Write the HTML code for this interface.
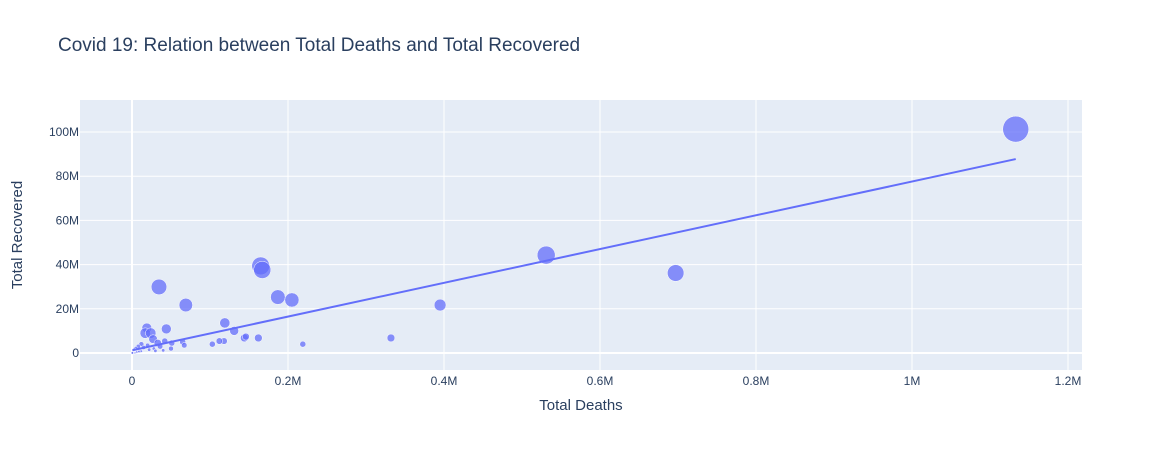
<!DOCTYPE html>
<html><head><meta charset="utf-8"><style>
body{margin:0;background:#fff;font-family:"Liberation Sans",Arial,sans-serif}
svg text{font-family:"Liberation Sans",Arial,sans-serif;fill:#2a3f5f}
</style></head><body>
<svg id="chart" width="1162" height="450" xmlns="http://www.w3.org/2000/svg">
<rect x="0" y="0" width="1162" height="450" fill="#fff"/>
<text x="58" y="51" font-size="19">Covid 19: Relation between Total Deaths and Total Recovered</text>
<rect x="80" y="100" width="1002" height="270" fill="#e5ecf6"/>
<g id="grid"></g><g id="marks"></g><g id="ticks"></g>
<text x="581" y="410" font-size="15" text-anchor="middle">Total Deaths</text>
<text transform="translate(22,235) rotate(-90)" font-size="15" text-anchor="middle">Total Recovered</text>
</svg>
<script>
const totalDeaths=[1.133,0.531,0.697,0.395,0.332,0.219,0.165,0.167,0.187,0.205,0.0346,0.069,0.119,0.131,0.162,0.144,0.146,0.118,0.112,0.103,0.044,0.019,0.017,0.024,0.027,0.033,0.042,0.051,0.065,0.067,0.036,0.05,0.012,0.008,0.005,0.003,0.015,0.022,0.028,0.01,0.002,0.001,0.006,0.02,0.03,0.04,
0.001,0.002,0.003,0.004,0.005,0.006,0.007,0.008,0.009,0.011,0.001,0.002,0.003,0.004,0.005,0.006,0.007,0.008,0.009,0.012,0.001,0.002,0.003,0.004,0.005,0.006,0.001,0.002,0.003,0.004,0.001,0.002,0.003,0.001,0.002,0.001,0.0005,0.0005,0.0005,0.0005];
const totalRecovered=[101.3,44.3,36.2,21.7,6.8,4.0,39.4,37.6,25.3,24.0,29.9,21.7,13.6,10.0,6.8,6.8,7.4,5.4,5.4,4.0,10.9,11.3,9.0,9.0,6.3,4.5,5.4,4.5,5.0,3.5,3.0,2.0,4.0,3.0,2.0,1.5,2.5,1.5,2.0,0.8,0.5,0.2,1.0,3.5,1.0,1.2,
0.1,0.2,0.3,0.4,0.5,0.6,0.7,0.8,0.9,1.0,0.05,0.1,0.15,0.2,0.3,0.4,0.5,0.6,0.7,0.8,0.02,0.05,0.1,0.2,0.3,0.4,0.01,0.03,0.05,0.1,0.01,0.02,0.03,0.01,0.02,0.01,0.005,0.01,0.02,0.03];
const totalCases=[110,53,45,23,10,6,52,48,35,33,40,30,17,13,10,10,8,7,7,6,16,16,18,18,12,9,6,6,6,5,5,4,4,3,3,2,3,2,2,2,1,1,2,3,2,2,
0.5,0.5,0.5,0.6,0.6,0.7,0.8,0.9,1,1,0.3,0.3,0.4,0.4,0.5,0.5,0.6,0.6,0.7,0.8,0.2,0.2,0.3,0.3,0.4,0.4,0.1,0.1,0.2,0.2,0.1,0.1,0.1,0.1,0.1,0.1,0.05,0.05,0.05,0.05];
const xTicks=[0,0.2,0.4,0.6,0.8,1,1.2];
const xTickLabels=["0","0.2M","0.4M","0.6M","0.8M","1M","1.2M"];
const yTicks=[0,20,40,60,80,100];
const yTickLabels=["0","20M","40M","60M","80M","100M"];
const X=d=>132+d*780, Y=r=>353-r*2.21;
const NS="http://www.w3.org/2000/svg";
function mk(t,a,p){const e=document.createElementNS(NS,t);for(const k in a)e.setAttribute(k,a[k]);p.appendChild(e);return e;}
const grid=document.getElementById('grid'),marks=document.getElementById('marks'),ticks=document.getElementById('ticks');
xTicks.forEach((v,i)=>{const l=mk('line',{x1:X(v),x2:X(v),y1:100,y2:370,stroke:'#fff','stroke-width':v===0?2:1},grid);

const t=mk('text',{x:X(v),y:385,'font-size':12,'text-anchor':'middle'},ticks);t.textContent=xTickLabels[i];
});
yTicks.forEach((v,i)=>{const l=mk('line',{x1:80,x2:1082,y1:Y(v),y2:Y(v),stroke:'#fff','stroke-width':v===0?2:1},grid);

const t=mk('text',{x:79,y:Y(v)+4,'font-size':12,'text-anchor':'end'},ticks);t.textContent=yTickLabels[i];
});
totalDeaths.forEach((d,i)=>{const c=mk('circle',{cx:X(d),cy:Y(totalRecovered[i]),r:Math.max(1.2,13*Math.sqrt(totalCases[i]/110)),fill:'#636efa','fill-opacity':0.75,stroke:'#fff','stroke-width':0.5},marks);
});
const n=totalDeaths.length;let mx=0,my=0;for(let i=0;i<n;i++){mx+=totalDeaths[i];my+=totalRecovered[i];}mx/=n;my/=n;
let sxy=0,sxx=0;for(let i=0;i<n;i++){sxy+=(totalDeaths[i]-mx)*(totalRecovered[i]-my);sxx+=(totalDeaths[i]-mx)**2;}
const b=sxy/sxx,a=my-b*mx;const xmin=Math.min(...totalDeaths),xmax=Math.max(...totalDeaths);
const tl=mk('line',{x1:X(xmin),y1:Y(a+b*xmin),x2:X(xmax),y2:Y(a+b*xmax),stroke:'#636efa','stroke-width':2},marks);

</script>
</body></html>
